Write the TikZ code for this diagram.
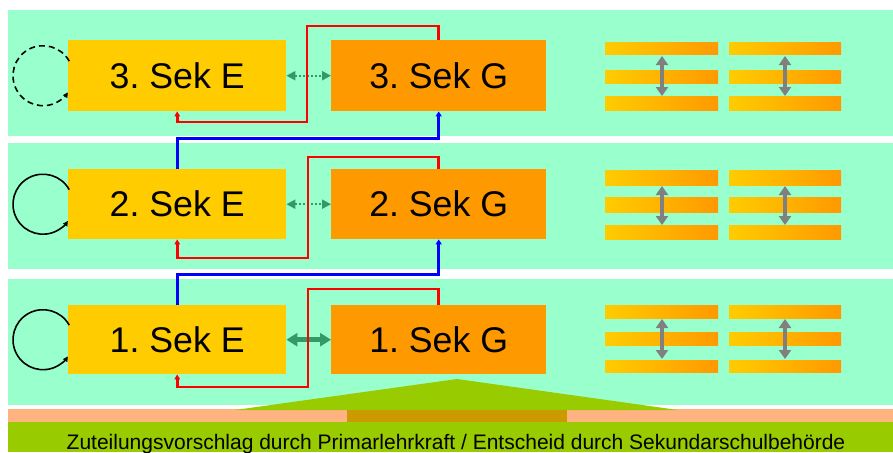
\documentclass[tikz,border=0pt]{standalone}
\usepackage{fontspec}
\setmainfont{Liberation Sans}
\usetikzlibrary{arrows.meta,calc}
\definecolor{bandgreen}{HTML}{99FFCC}
\definecolor{eyellow}{HTML}{FFCC00}
\definecolor{gorange}{HTML}{FF9900}
\definecolor{mound}{HTML}{99CC00}
\definecolor{salmon}{HTML}{FFB380}
\definecolor{brownish}{HTML}{CC9900}
\definecolor{arrowgreen}{HTML}{339966}
\definecolor{arrowgray}{HTML}{808080}
\frenchspacing
\begin{document}
\begin{tikzpicture}[x=1pt,y=-1pt,
  band/.style={fill=bandgreen},
  sekbox/.style={minimum width=#1, inner sep=0pt, anchor=north west,
     font=\fontsize{35.7}{40}\selectfont},
  ebox/.style={sekbox=218pt, fill=eyellow},
  gbox/.style={sekbox=215pt, fill=gorange},
  redline/.style={draw=red, line width=2.6pt, -{Triangle[length=5pt,width=5.5pt]}},
  blueline/.style={draw=blue, line width=3pt, -{Triangle[length=5pt,width=6pt]}},
  loopline/.style={draw=black, line width=1.6pt, -{Triangle[length=5pt,width=5pt]}},
  dotarrow/.style={draw=arrowgreen, line width=2pt, dotted,
     {Triangle[length=9pt,width=9pt]}-{Triangle[length=9pt,width=9pt]}},
  thickarrow/.style={draw=arrowgreen, line width=4.5pt,
     {Triangle[length=11pt,width=13pt]}-{Triangle[length=11pt,width=13pt]}},
  grayarrow/.style={draw=arrowgray, line width=3.5pt,
     {Triangle[length=9pt,width=12pt]}-{Triangle[length=9pt,width=12pt]}},
  stripe/.style={left color=eyellow, right color=gorange, draw=none}
]
\useasboundingbox (0,0) rectangle (893,452);
\fill[white] (0,0) rectangle (893,452);

% bands
\fill[band] (8,10) rectangle (893,136);
\fill[band] (8,143) rectangle (893,269);
\fill[band] (8,279) rectangle (893,405);

% bottom strip
\fill[salmon] (8,409) rectangle (893,422);
\fill[brownish] (347,409) rectangle (567,422);
\fill[mound] (235,410) -- (457,379) -- (678,410) -- cycle;
\fill[mound] (8,422) rectangle (893,452);
\node[anchor=base, inner sep=0pt, font=\fontsize{21}{24}\selectfont] (caption) at (456,449)
  {Zuteilungsvorschlag durch Primarlehrkraft / Entscheid durch Sekundarschulbehörde};

% boxes
\node[ebox, minimum height=71pt] (e3) at (68,40) {3. Sek E};
\node[gbox, minimum height=71pt] (g3) at (331,40) {3. Sek G};
\node[ebox, minimum height=70pt] (e2) at (68,169) {2. Sek E};
\node[gbox, minimum height=70pt] (g2) at (331,169) {2. Sek G};
\node[ebox, minimum height=69pt] (e1) at (68,305) {1. Sek E};
\node[gbox, minimum height=69pt] (g1) at (331,305) {1. Sek G};

% loops
\draw[loopline, dash pattern=on 6pt off 4pt] ($(e3.west)+(-25,0)+(-29:30)$) arc[start angle=-29, end angle=-326, radius=30];
\draw[loopline] ($(e2.west)+(-25,0)+(-29:30)$) arc[start angle=-29, end angle=-326, radius=30];
\draw[loopline] ($(e1.west)+(-25,0)+(-29:30)$) arc[start angle=-29, end angle=-326, radius=30];

% E <-> G arrows
\draw[dotarrow] (e3.east) -- (g3.west);
\draw[dotarrow] (e2.east) -- (g2.west);
\draw[thickarrow] (e1.east) -- (g1.west);

% red connectors
\draw[redline] (g3.north) -- ++(0,-14) -| (307,122) -| (e3.south);
\draw[redline] (g2.north) -- ++(0,-12) -| (308,258) -| (e2.south);
\draw[redline] (g1.north) -- ++(0,-16) -| (308,387) -| (e1.south);

% blue connectors
\draw[blueline] (e2.north) -- ++(0,-31) -| (g3.south);
\draw[blueline] (e1.north) -- ++(0,-31) -| (g2.south);

% stripes
\foreach \a/\b in {43/55,70/83,96/110,170/185,197/212,225/239,305/318,332/345,360/372}{
  \shade[stripe] (605,\a) rectangle (718,\b);
  \shade[stripe] (729,\a) rectangle (841,\b);
}
\foreach \a/\b in {56/96,186/225,319/359}{
  \draw[grayarrow] (662,\a) -- (662,\b);
  \draw[grayarrow] (785,\a) -- (785,\b);
}
\end{tikzpicture}
\end{document}
